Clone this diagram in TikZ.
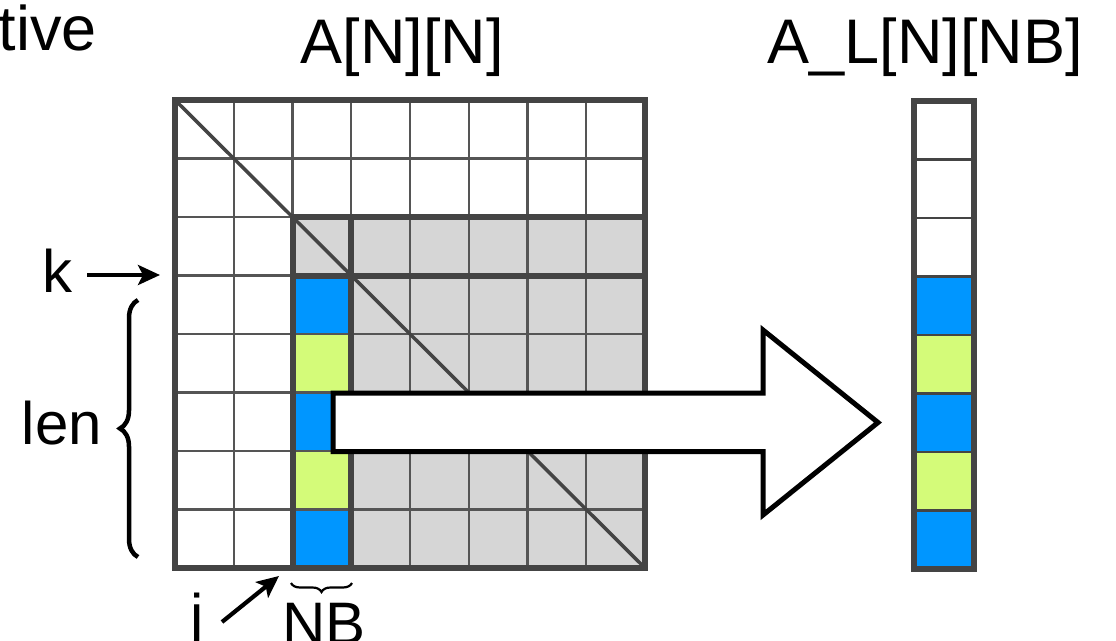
\documentclass[tikz,border=0pt]{standalone}
\usepackage{fontspec}
\setmainfont{Liberation Sans}
\usetikzlibrary{decorations.pathreplacing,arrows.meta}
\definecolor{cblue}{HTML}{0096FF}
\definecolor{cgreen}{HTML}{D4FB79}
\definecolor{cgray}{HTML}{D6D6D6}
\definecolor{cline}{HTML}{444444}
\definecolor{cthin}{HTML}{555555}
\begin{document}
\begin{tikzpicture}[x=1pt,y=-1pt,
  thingrid/.style={draw=cthin, line width=2.2pt},
  thickgrid/.style={draw=cline, line width=6pt, line cap=rect},
  title/.style={font=\fontsize{63}{70}\selectfont, inner sep=0pt, anchor=base},
  lbl/.style={font=\fontsize{60}{66}\selectfont, inner sep=0pt, anchor=base},
  ptr/.style={-{Stealth[length=22pt,width=20pt,inset=5pt]}, line width=4.2pt},
  bigarrow/.style={draw=black, fill=white, line width=5pt, line join=miter},
  bracestyle/.style={decorate, line width=4.5pt},
]
\useasboundingbox (0,0) rectangle (1116,640);
\fill[white] (0,0) rectangle (1116,640);
% ---------- main matrix A[N][N]
\fill[cgray] (292.5,217) rectangle (645,568);
\foreach \r/\c in {3/cblue,4/cgreen,5/cblue,6/cgreen,7/cblue}{
  \fill[\c] (292.5,{100+58.5*\r}) rectangle (351.25,{100+58.5*(\r+1)});
}
\foreach \i in {1,...,7}{
  \draw[thingrid] ({175+58.75*\i},100) -- ({175+58.75*\i},568);
  \draw[thingrid] (175,{100+58.5*\i}) -- (645,{100+58.5*\i});
}
\draw[draw=cline, line width=3.5pt] (175,100) -- (645,568);
\draw[thickgrid] (292.5,217) -- (645,217);
\draw[thickgrid] (292.5,275.5) -- (645,275.5);
\draw[thickgrid] (292.5,217) -- (292.5,568);
\draw[thickgrid] (351.25,217) -- (351.25,568);
\draw[draw=cline, line width=6pt] (175,100) rectangle (645,568);
% ---------- column A_L[N][NB]
\foreach \r/\c in {3/cblue,4/cgreen,5/cblue,6/cgreen,7/cblue}{
  \fill[\c] (914,{101+58.5*\r}) rectangle (974,{101+58.5*(\r+1)});
}
\foreach \i in {1,...,7}{
  \draw[draw=cline, line width=2.2pt] (914,{101+58.5*\i}) -- (974,{101+58.5*\i});
}
\draw[draw=cline, line width=6pt] (914,101) rectangle (974,569);
% ---------- big arrow
\draw[bigarrow] (333,393) -- (763,393) -- (763,330) -- (878,422.5)
  -- (763,515) -- (763,451.5) -- (333,451.5) -- cycle;
% ---------- texts
\node[title, anchor=base east] (tive) at (97,50) {tive};
\node[title] (AN) at (402,63) {A[N][N]};
\node[title] (AL) at (925,63) {A\_L[N][NB]};
\node[lbl] (k) at (57,292) {k};
\coordinate (kA) at (87,275);
\coordinate (kB) at (160,275);
\draw[ptr] (kA) -- (kB);
\node[lbl] (len) at (62,444) {len};
\draw[bracestyle, decoration={brace, amplitude=18pt}] (138,557) -- (138,300);
\node[lbl] (j) at (197,636) {j};
\coordinate (jA) at (222,622);
\coordinate (jB) at (279,576);
\draw[ptr] (jA) -- (jB);
\node[lbl] (NB) at (324,644) {NB};
\draw[decorate, decoration={brace, mirror, amplitude=9pt}, line width=2.2pt] (291,583) -- (352,583);
\end{tikzpicture}
\end{document}
